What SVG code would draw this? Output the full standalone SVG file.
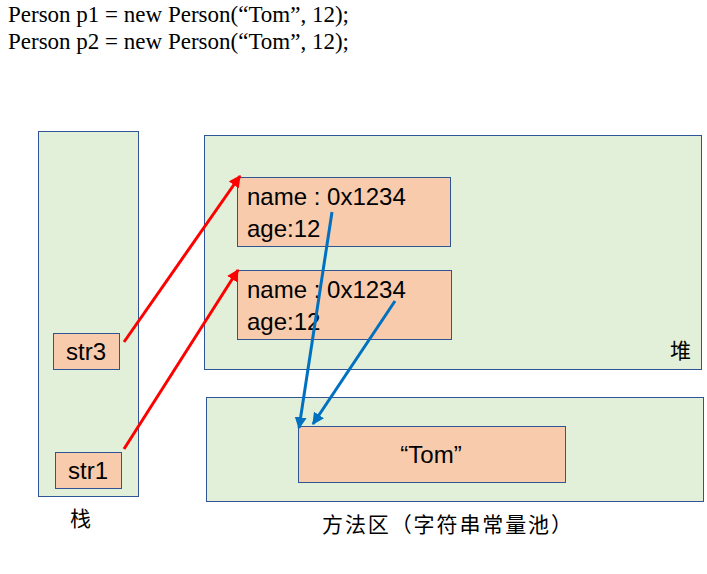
<svg xmlns="http://www.w3.org/2000/svg" width="707" height="574" viewBox="0 0 707 574">
<defs>
<style>
.area{fill:#E2F0D9;stroke:#2F5597;stroke-width:1}
.box{fill:#F8CBAD;stroke:#2F5597;stroke-width:1}
.t{font-family:"Liberation Sans","Noto Sans CJK SC",sans-serif;font-size:24px;fill:#000}
.cn{font-family:"Noto Sans CJK SC",sans-serif;font-size:21px;fill:#000}
.code{font-family:"Liberation Serif",serif;font-size:23px;fill:#000}
.red{stroke:#FF0000;stroke-width:3;fill:none}
.blue{stroke:#0070C0;stroke-width:3;fill:none}
</style>
<marker id="ar" viewBox="0 0 10 10" refX="9" refY="5" markerWidth="4" markerHeight="4" orient="auto" markerUnits="strokeWidth"><path d="M0,0 L10,5 L0,10 z" fill="#FF0000"/></marker>
<marker id="ab" viewBox="0 0 10 10" refX="9" refY="5" markerWidth="4" markerHeight="4" orient="auto" markerUnits="strokeWidth"><path d="M0,0 L10,5 L0,10 z" fill="#0070C0"/></marker>
</defs>
<rect width="707" height="574" fill="#fff"/>
<g id="code">
<text class="code" x="8" y="22">Person p1 = new Person(“Tom”, 12);</text>
<text class="code" x="8" y="49">Person p2 = new Person(“Tom”, 12);</text>
</g>
<g id="stack">
<rect class="area" x="38.5" y="131.5" width="100" height="365"/>
<text class="cn" x="70" y="526">栈</text>
</g>
<g id="heap">
<rect class="area" x="204.5" y="135.5" width="497" height="234"/>
<text class="cn" x="670" y="358">堆</text>
</g>
<g id="method">
<rect class="area" x="206.5" y="397.5" width="497" height="104"/>
<text class="cn" x="322" y="532" textLength="250" lengthAdjust="spacing">方法区（字符串常量池）</text>
</g>
<g id="obj1">
<rect class="box" x="237.5" y="177.5" width="213" height="69"/>
<text class="t" x="247" y="205">name : 0x1234</text>
<text class="t" x="247" y="237">age:12</text>
</g>
<g id="obj2">
<rect class="box" x="237.5" y="270.5" width="214" height="69"/>
<text class="t" x="247" y="298">name : 0x1234</text>
<text class="t" x="247" y="330">age:12</text>
</g>
<g id="tom">
<rect class="box" x="298.5" y="426.5" width="267" height="56"/>
<text class="t" x="431" y="463" text-anchor="middle">“Tom”</text>
</g>
<g id="str3">
<rect class="box" x="53.5" y="333.5" width="66" height="36"/>
<text class="t" x="86" y="360" text-anchor="middle">str3</text>
</g>
<g id="str1">
<rect class="box" x="55.5" y="452.5" width="66" height="36"/>
<text class="t" x="88" y="479" text-anchor="middle">str1</text>
</g>
<g id="connectors">
<line class="red" x1="124" y1="342" x2="240" y2="176" marker-end="url(#ar)"/>
<line class="red" x1="124" y1="449" x2="238" y2="270" marker-end="url(#ar)"/>
<line class="blue" x1="332" y1="212" x2="299" y2="428" marker-end="url(#ab)"/>
<line class="blue" x1="395" y1="301" x2="313" y2="424" marker-end="url(#ab)"/>
</g>
</svg>
